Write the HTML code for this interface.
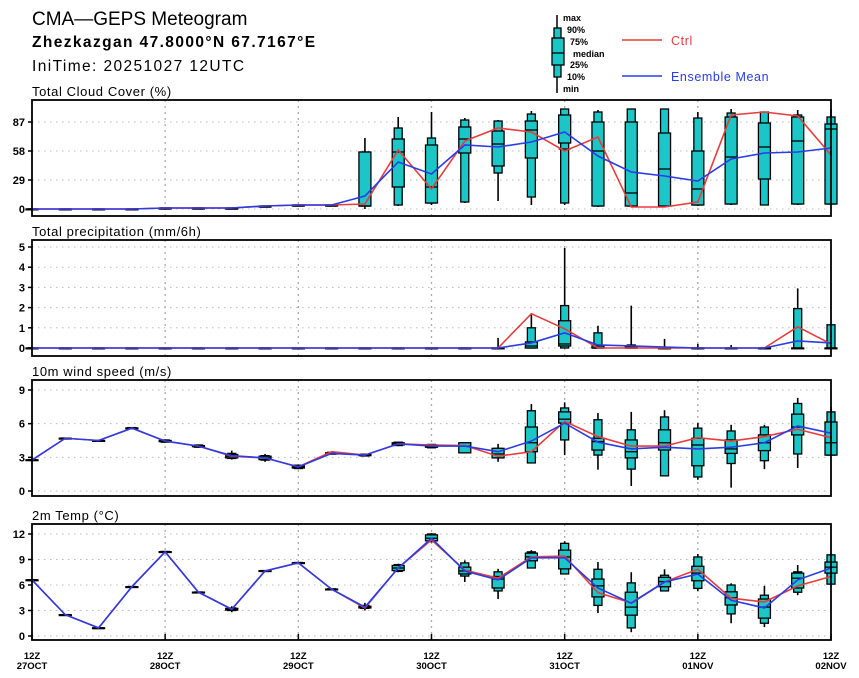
<!DOCTYPE html>
<html><head><meta charset="utf-8"><style>
body{margin:0;background:#fff;width:859px;height:678px;overflow:hidden}
svg{display:block;font-family:"Liberation Sans",sans-serif}
</style></head><body>
<svg id="c" width="859" height="678">
<g>
<text x="32" y="25" font-size="19">CMA—GEPS Meteogram</text>
<text x="32" y="47" font-size="15.5" font-weight="bold" letter-spacing="1.4">Zhezkazgan 47.8000°N 67.7167°E</text>
<text x="32" y="71" font-size="15.5" letter-spacing="1.4">IniTime: 20251027 12UTC</text>
</g>
<g font-size="9" font-weight="bold">
<line x1="557" y1="15" x2="557" y2="93" stroke="#000" stroke-width="1.5"/>
<rect x="554" y="28" width="7" height="49" fill="#1cc6c6" stroke="#000" stroke-width="1.3"/>
<rect x="552" y="38" width="12" height="27" fill="#1cc6c6" stroke="#000" stroke-width="1.3"/>
<line x1="552" y1="53" x2="564" y2="53" stroke="#000" stroke-width="1.3"/>
<text x="563" y="21">max</text><text x="567" y="33">90%</text><text x="570" y="45">75%</text>
<text x="573" y="57">median</text><text x="570" y="68">25%</text><text x="567" y="80">10%</text><text x="563" y="92">min</text>
<line x1="622" y1="40" x2="662" y2="40" stroke="#e83c3c" stroke-width="1.5"/>
<text x="671" y="45" font-size="12.5" font-weight="normal" letter-spacing="0.6" fill="#e83c3c">Ctrl</text>
<line x1="622" y1="76" x2="662" y2="76" stroke="#2a3ce8" stroke-width="1.5"/>
<text x="671" y="81" font-size="12.5" font-weight="normal" letter-spacing="0.6" fill="#2a3ce8">Ensemble Mean</text>
</g>
</svg>
<script>
// time axis
const xLabels=[["12Z","27OCT"],["12Z","28OCT"],["12Z","29OCT"],["12Z","30OCT"],["12Z","31OCT"],["12Z","01NOV"],["12Z","02NOV"]];
// Cloud cover (%)
const cloudMax=[0,0,0,0,1,1,1,3,4,4,71,92,97,91,89,98,100,99,100,100,97,100,97,99,100];
const cloudP90=[0,0,0,0,1,1,1,3,4,4,57,81,71,89,88,95,100,97,100,100,91,96,97,94,92];
const cloudP75=[0,0,0,0,1,1,1,3,4,4,57,70,64,82,78,88,94,87,87,76,58,92,86,92,85];
const cloudMed=[0,0,0,0,1,1,0,2,3,3,3,57,22,70,65,79,60,58,16,40,20,52,62,68,80];
const cloudP25=[0,0,0,0,0,0,0,2,3,3,3,22,6,56,43,51,66,3,3,3,4,5,30,5,5];
const cloudP10=[0,0,0,0,0,0,0,2,3,3,3,4,6,7,36,12,6,3,3,3,4,5,4,5,5];
const cloudMin=[0,0,0,0,0,0,0,2,3,3,0,3,4,6,8,4,4,2,2,2,3,4,4,4,4];
const cloudCtrl=[0,0,0,0,1,1,1,3,4,4,5,59,20,68,81,77,58,72,2,2,7,94,97,93,54];
const cloudMean=[0,0,0,0,1,1,1,3,4,4,13,47,35,64,62,67,77,53,37,33,28,50,56,57,61];
// Precip (mm/6h)
const prMax=[0,0,0,0,0,0,0,0,0,0,0,0,0,0,0.5,1.7,4.95,1.1,2.1,0.45,0.2,0.15,0,2.95,1.15];
const prP90=[0,0,0,0,0,0,0,0,0,0,0,0,0,0,0,1.0,2.1,0.75,0.15,0,0,0,0,1.95,1.15];
const prP75=[0,0,0,0,0,0,0,0,0,0,0,0,0,0,0,0.3,1.35,0.1,0.05,0,0,0,0,0,0];
const prMed=[0,0,0,0,0,0,0,0,0,0,0,0,0,0,0,0.1,0.2,0,0,0,0,0,0,0,0];
const prP25=[0,0,0,0,0,0,0,0,0,0,0,0,0,0,0,0,0.1,0,0,0,0,0,0,0,0];
const prP10=[0,0,0,0,0,0,0,0,0,0,0,0,0,0,0,0,0,0,0,0,0,0,0,0,0];
const prMin=[0,0,0,0,0,0,0,0,0,0,0,0,0,0,0,0,0,0,0,0,0,0,0,0,0];
const prCtrl=[0,0,0,0,0,0,0,0,0,0,0,0,0,0,0,1.7,0.95,0,0,0,0,0,0,1.05,0.2];
const prMean=[0,0,0,0,0,0,0,0,0,0,0,0,0,0,0,0.25,0.75,0.15,0.1,0.05,0,0,0,0.35,0.25];
// Wind (m/s)
const wMax=[2.8,4.75,4.55,5.7,4.6,4.15,3.6,3.3,2.35,3.5,3.3,4.4,4.2,4.3,4.2,7.75,7.9,6.95,7.05,7.2,6.05,5.9,5.9,8.3,7.5];
const wP90=[2.8,4.72,4.52,5.65,4.55,4.1,3.35,3.15,2.3,3.45,3.28,4.35,4.15,4.3,3.8,7.15,7.4,6.35,5.45,6.6,5.6,5.35,5.7,7.8,7.05];
const wP75=[2.78,4.7,4.5,5.62,4.5,4.05,3.25,3.1,2.25,3.4,3.25,4.3,4.1,4.3,3.8,5.7,7.05,4.7,4.55,5.45,4.7,4.55,5.0,6.85,6.15];
const wMed=[2.76,4.7,4.5,5.6,4.45,4.0,3.1,2.95,2.15,3.35,3.2,4.2,4.0,4.0,3.3,4.3,6.4,4.4,3.5,4.3,4.1,3.75,4.3,5.7,4.3];
const wP25=[2.74,4.68,4.48,5.58,4.4,3.95,2.95,2.8,2.05,3.3,3.15,4.1,3.9,3.4,2.95,3.5,6.05,3.65,2.95,3.65,2.25,3.35,3.6,5.0,3.2];
const wP10=[2.72,4.66,4.46,5.55,4.35,3.9,2.9,2.75,2.0,3.28,3.12,4.05,3.85,3.4,2.95,2.5,4.55,3.2,1.95,1.35,1.25,2.45,2.7,3.3,3.2];
const wMin=[2.7,4.65,4.45,5.5,4.3,3.85,2.8,2.6,1.95,3.25,3.1,4.0,3.8,3.35,2.6,2.5,3.2,1.9,0.45,1.35,1.0,0.3,1.95,2.05,3.2];
const wCtrl=[2.76,4.7,4.5,5.6,4.45,4.0,3.1,2.95,2.15,3.5,3.2,4.2,4.1,4.05,3.1,3.5,6.2,4.85,4.0,4.0,4.75,4.45,4.85,5.5,4.75];
const wMean=[2.76,4.7,4.5,5.6,4.45,4.0,3.15,2.95,2.15,3.35,3.2,4.2,4.0,4.0,3.5,4.45,6.05,4.35,3.75,3.9,3.75,3.9,4.3,5.8,5.15];
// Temp (°C)
const tMax=[6.65,2.55,1.0,5.85,10.0,5.2,3.5,7.75,8.7,5.6,3.9,8.5,12.1,8.9,7.9,10.1,11.15,8.7,7.5,7.85,9.65,6.2,5.9,8.35,9.75];
const tP90=[6.62,2.52,0.98,5.82,9.95,5.18,3.3,7.7,8.65,5.55,3.6,8.4,12.0,8.6,7.55,9.9,10.9,7.85,6.25,7.15,9.3,6.0,4.8,7.55,9.55];
const tP75=[6.6,2.5,0.96,5.8,9.92,5.16,3.25,7.68,8.62,5.52,3.5,8.3,11.9,8.1,7.0,9.75,10.1,6.7,5.15,6.9,8.2,5.2,4.35,7.4,8.7];
const tMed=[6.6,2.5,0.95,5.8,9.9,5.15,3.15,7.65,8.6,5.5,3.4,8.0,11.5,7.65,6.7,9.3,9.3,5.9,3.4,6.4,7.4,4.5,3.4,6.8,8.1];
const tP25=[6.58,2.48,0.93,5.78,9.88,5.12,3.05,7.62,8.58,5.48,3.3,7.7,11.2,7.3,5.65,8.85,7.9,4.6,2.45,5.8,6.5,3.65,2.1,5.65,7.4];
const tP10=[6.56,2.46,0.92,5.76,9.85,5.1,3.0,7.6,8.55,5.45,3.25,7.6,11.1,7.05,5.3,8.0,7.3,3.6,0.95,5.3,5.6,2.6,1.5,5.15,6.1];
const tMin=[6.55,2.45,0.9,5.75,9.8,5.05,2.8,7.55,8.5,5.4,3.0,7.5,11.0,6.35,4.35,8.0,7.3,2.7,0.45,5.3,5.3,1.5,1.05,4.8,6.1];
const tCtrl=[6.6,2.5,0.95,5.8,9.9,5.15,3.15,7.65,8.6,5.5,3.3,8.0,11.3,7.75,6.8,9.3,9.4,5.1,3.9,6.35,7.85,4.45,4.0,5.9,7.0];
const tMean=[6.6,2.5,0.95,5.8,9.9,5.15,3.15,7.65,8.6,5.5,3.4,8.0,11.5,7.65,6.6,9.2,9.2,5.65,3.85,6.35,7.3,4.2,3.3,6.6,8.0];
const cloudTicks=[0,29,58,87], prTicks=[0,1,2,3,4,5], wTicks=[0,3,6,9], tTicks=[0,3,6,9,12];

const NS="http://www.w3.org/2000/svg", svg=document.getElementById('c');
const X0=32,X1=831,N=25;
const xs=i=>X0+(X1-X0)*i/(N-1);
function mk(tag,at,par){const e=document.createElementNS(NS,tag);for(const k in at)e.setAttribute(k,at[k]);(par||svg).appendChild(e);return e;}
function panel(name,title,top,bot,v0,y0,v1,y1,ticks,d,showX){
  const g=mk('g',{});
  
  
  const ys=v=>y0+(v-v0)*(y1-y0)/(v1-v0);
  const t=mk('text',{x:32,y:top-4,'font-size':13,'letter-spacing':0.6},g);t.textContent=title;
  
  
  ticks.forEach(v=>{
    const y=ys(v);
    mk('line',{x1:X0,x2:X1,y1:y,y2:y,stroke:'#bbb','stroke-width':1,'stroke-dasharray':'1.5 4.5'},g);
    mk('line',{x1:X0-4,x2:X0,y1:y,y2:y,stroke:'#000','stroke-width':1.5},g);
    const l=mk('text',{x:X0-7,y:y+4,'font-size':11,'font-weight':'bold','text-anchor':'end'},g);l.textContent=v;
    
    
  });
  for(let k=1;k<6;k++){const x=xs(k*4);mk('line',{x1:x,x2:x,y1:top,y2:bot,stroke:'#aaa','stroke-width':1.3,'stroke-dasharray':'2 4'},g);}
  for(let i=0;i<N;i++){
    const x=xs(i);
    const b=mk('g',{},g);
    
    
    mk('line',{x1:x,x2:x,y1:ys(d.max[i]),y2:ys(d.min[i]),stroke:'#000','stroke-width':1.6},b);
    const h1=Math.max(ys(d.p10[i])-ys(d.p90[i]),0.8);
    mk('rect',{x:x-4,y:ys(d.p90[i]),width:8,height:h1,fill:'#1cc6c6',stroke:'#000','stroke-width':1.3},b);
    const h2=Math.max(ys(d.p25[i])-ys(d.p75[i]),0.8);
    mk('rect',{x:x-6,y:ys(d.p75[i]),width:12,height:h2,fill:'#1cc6c6',stroke:'#000','stroke-width':1.3},b);
    mk('line',{x1:x-6,x2:x+6,y1:ys(d.med[i]),y2:ys(d.med[i]),stroke:'#000','stroke-width':1.3},b);
  }
  const pl=(arr,c,n)=>{const p=mk('polyline',{points:arr.map((v,i)=>xs(i)+','+ys(v)).join(' '),fill:'none',stroke:c,'stroke-width':1.6},g);
    
    };
  pl(d.ctrl,'#e83c3c','ctrl');pl(d.mean,'#2a3ce8','mean');
  const r=mk('rect',{x:X0,y:top,width:X1-X0,height:bot-top,fill:'none',stroke:'#000','stroke-width':1.8},g);
  
  
  if(showX){xLabels.forEach((lb,k)=>{const x=xs(k*4);
    mk('line',{x1:x,x2:x,y1:bot,y2:bot-6,stroke:'#000','stroke-width':1.5},g);
    const a=mk('text',{x:x,y:659,'font-size':9.5,'font-weight':'bold','text-anchor':'middle'},g);a.textContent=lb[0];
    
    
    const c=mk('text',{x:x,y:669,'font-size':9.5,'font-weight':'bold','text-anchor':'middle'},g);c.textContent=lb[1];
    
    });}
}
panel('cloud','Total Cloud Cover (%)',100,216,0,209,87,122,cloudTicks,{max:cloudMax,p90:cloudP90,p75:cloudP75,med:cloudMed,p25:cloudP25,p10:cloudP10,min:cloudMin,ctrl:cloudCtrl,mean:cloudMean});
panel('precip','Total precipitation (mm/6h)',240,356,0,348,5,247,prTicks,{max:prMax,p90:prP90,p75:prP75,med:prMed,p25:prP25,p10:prP10,min:prMin,ctrl:prCtrl,mean:prMean});
panel('wind','10m wind speed (m/s)',380,496,0,491,9,390,wTicks,{max:wMax,p90:wP90,p75:wP75,med:wMed,p25:wP25,p10:wP10,min:wMin,ctrl:wCtrl,mean:wMean});
panel('temp','2m Temp (°C)',524,640,0,636,12,534,tTicks,{max:tMax,p90:tP90,p75:tP75,med:tMed,p25:tP25,p10:tP10,min:tMin,ctrl:tCtrl,mean:tMean},true);
</script>
</body></html>
